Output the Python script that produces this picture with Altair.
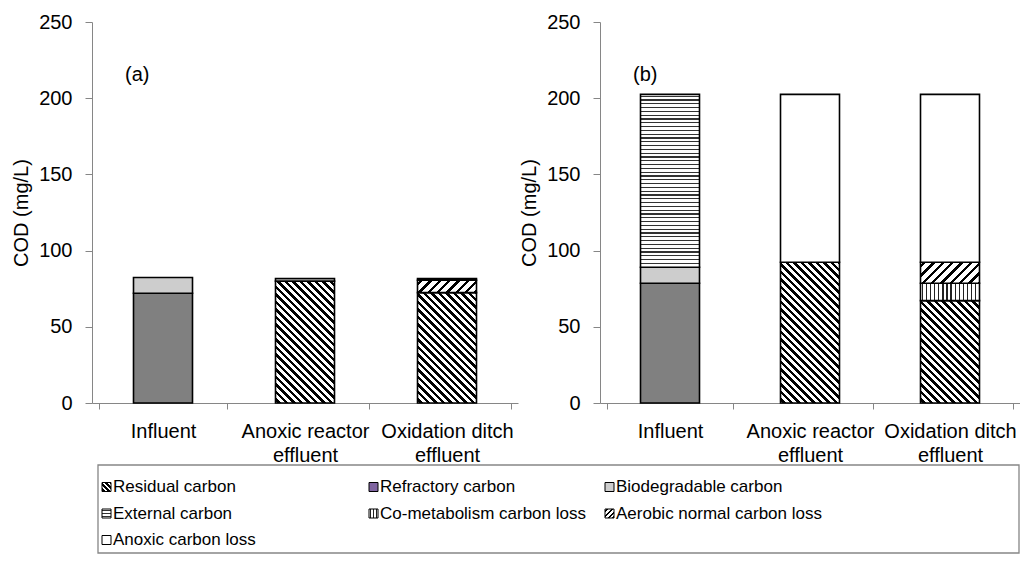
import math
import altair as alt
import pandas as pd

# ---------------- data ----------------
categories = ["Influent", "Anoxic reactor|effluent", "Oxidation ditch|effluent"]
components = ["Residual carbon", "Refractory carbon", "Biodegradable carbon",
              "External carbon", "Co-metabolism carbon loss",
              "Aerobic normal carbon loss", "Anoxic carbon loss"]

# panel (a)  (mg/L, per category)
a_residual = [0.0, 80.0, 72.4]
a_refractory = [72.0, 0.0, 0.0]
a_biodegradable = [10.3, 0.0, 0.0]
a_external = [0.0, 0.0, 0.0]
a_cometabolism = [0.0, 0.0, 0.0]
a_aerobic = [0.0, 0.0, 8.1]
a_anoxic = [0.0, 1.6, 1.1]

# panel (b)
b_residual = [0.0, 92.4, 67.2]
b_refractory = [78.6, 0.0, 0.0]
b_biodegradable = [10.5, 0.0, 0.0]
b_external = [113.4, 0.0, 0.0]
b_cometabolism = [0.0, 0.0, 11.4]
b_aerobic = [0.0, 0.0, 13.8]
b_anoxic = [0.0, 110.1, 110.1]

panel_a = [a_residual, a_refractory, a_biodegradable, a_external,
           a_cometabolism, a_aerobic, a_anoxic]
panel_b = [b_residual, b_refractory, b_biodegradable, b_external,
           b_cometabolism, b_aerobic, b_anoxic]

# ---------------- style ----------------
FONT = "Liberation Sans"
FS = 20
LFS = 17
H = 381
WA = 426
WB = 420
BARW = 59
YMAX = 250

pattern_of = {
    "Residual carbon": "back",
    "Refractory carbon": "gray",
    "Biodegradable carbon": "dots",
    "External carbon": "hlines",
    "Co-metabolism carbon loss": "vlines",
    "Aerobic normal carbon loss": "fwd",
    "Anoxic carbon loss": "white",
}


def hard_stops(L, period, lw, fg, bg):
    stops = [{"offset": 0, "color": bg}]
    pos = period * 0.3
    while pos < L:
        a = max(pos, 0) / L
        b = min(pos + lw, L) / L
        if b > a:
            a, b = round(a, 4), round(b, 4)
            stops += [{"offset": a, "color": bg}, {"offset": a, "color": fg},
                      {"offset": b, "color": fg}, {"offset": b, "color": bg}]
        pos += period
    stops.append({"offset": 1, "color": bg})
    return stops


def fill_for(kind, w, h, legend=False):
    if kind == "gray":
        return "#7f64a0" if legend else "#808080"
    if kind == "white":
        return "#ffffff"
    if kind == "dots":
        return "#cdcdcd"
    if kind == "hlines":
        L = h
        g = dict(x1=0, y1=0, x2=0, y2=1)
        stops = hard_stops(L, 3.8 if not legend else 3.0, 1.3, "#333333", "#ffffff")
    elif kind == "vlines":
        L = w
        g = dict(x1=0, y1=0, x2=1, y2=0)
        stops = hard_stops(L, 4.1 if not legend else 3.0, 1.3, "#222222", "#ffffff")
    elif kind in ("back", "fwd"):
        L = (w + h) / math.sqrt(2)
        s = (w + h) / (w * w + h * h)
        if kind == "back":
            g = dict(x1=0, y1=1, x2=round(s * w, 5), y2=round(1 - s * h, 5))
            stops = hard_stops(L, 5.3 if not legend else 3.4, 2.4 if not legend else 1.8,
                               "#000000", "#ffffff")
        else:
            g = dict(x1=0, y1=0, x2=round(s * w, 5), y2=round(s * h, 5))
            stops = hard_stops(L, 6.6 if not legend else 3.4, 2.3 if not legend else 1.6,
                               "#000000", "#ffffff")
    g["gradient"] = "linear"
    g["stops"] = stops
    return g


def long_table(panel):
    rows = []
    for ci, cat in enumerate(categories):
        base = 0.0
        for k, comp in enumerate(components):
            v = panel[k][ci]
            if v > 0:
                rows.append({"cat": cat, "comp": comp, "y0": base, "y1": base + v,
                             "sid": f"{ci}-{k}"})
                base += v
    return pd.DataFrame(rows)


def make_panel(panel, tag, width):
    df = long_table(panel)
    xenc = alt.X("cat:N", sort=categories, scale=alt.Scale(domain=categories),
                 axis=alt.Axis(title=None, labelAngle=0, labelExpr="split(datum.label, '|')",
                               tickBand="extent", tickSize=6, labelPadding=12,
                               labelLineHeight=24, labelFontSize=FS, labelFont=FONT,
                               labelColor="#000000", domainColor="#868686",
                               tickColor="#868686", labelBaseline="top", grid=False))
    yenc = alt.Y("y1:Q", scale=alt.Scale(domain=[0, YMAX], nice=False),
                 axis=alt.Axis(title="COD (mg/L)", values=[0, 50, 100, 150, 200, 250],
                               tickSize=7, labelPadding=13, titlePadding=7,
                               labelFontSize=FS, titleFontSize=FS, labelFont=FONT,
                               titleFont=FONT, titleFontWeight="normal",
                               labelColor="#000000", titleColor="#000000",
                               domainColor="#868686", tickColor="#868686", grid=False))
    layers = []
    for _, r in df.iterrows():
        hpx = (r["y1"] - r["y0"]) * H / YMAX
        fill = fill_for(pattern_of[r["comp"]], BARW, hpx)
        layers.append(
            alt.Chart(df).transform_filter(alt.datum.sid == r["sid"])
            .mark_bar(width=BARW, fill=fill, stroke="#000000", strokeWidth=1.6)
            .encode(x=xenc, y=yenc, y2="y0:Q")
        )
    label = alt.Chart(pd.DataFrame({"t": [tag]})).mark_text(
        font=FONT, fontSize=FS, align="left", baseline="middle", color="#000000"
    ).encode(text="t:N", x=alt.value(33), y=alt.value(53))
    layers.append(label)
    return alt.layer(*layers).properties(width=width, height=H)


pa = make_panel(panel_a, "(a)", WA)
pb = make_panel(panel_b, "(b)", WB)
top = alt.hconcat(pa, pb, spacing=1)

# ---------------- legend ----------------
LEG_X0 = 6
LEG_W = 927
LEG_H = 88
col_x = [LEG_X0 + 4, LEG_X0 + 271, LEG_X0 + 507]
leg_rows = []
for i, comp in enumerate(components):
    col, row = i % 3, i // 3
    lx = col_x[col]
    ly = 22 + row * 26.5
    leg_rows.append({"comp": comp, "lx": lx, "lx2": lx + 9, "ly": ly - 4.5, "ly2": ly + 4.5,
                     "tx": lx + 11, "ty": ly})
leg_df = pd.DataFrame(leg_rows)

box = alt.Chart(pd.DataFrame({"k": [0]})).mark_rect(
    fill="#ffffff", stroke="#868686", strokeWidth=1.3
).encode(x=alt.value(LEG_X0), x2=alt.value(LEG_W), y=alt.value(0), y2=alt.value(LEG_H))

leg_layers = [box]
for comp in components:
    leg_layers.append(
        alt.Chart(leg_df).transform_filter(alt.datum.comp == comp)
        .mark_rect(fill=fill_for(pattern_of[comp], 9, 9, legend=True),
                   stroke="#000000", strokeWidth=1)
        .encode(x=alt.X("lx:Q", scale=None), x2="lx2:Q",
                y=alt.Y("ly:Q", scale=None), y2="ly2:Q")
    )
leg_layers.append(
    alt.Chart(leg_df).mark_text(font=FONT, fontSize=LFS, align="left",
                                baseline="middle", color="#000000")
    .encode(x=alt.X("tx:Q", scale=None), y=alt.Y("ty:Q", scale=None), text="comp:N")
)
legend = alt.layer(*leg_layers).properties(width=LEG_W, height=LEG_H)

chart = alt.vconcat(top, legend, spacing=-7).properties(
    padding={"left": 11, "top": 12, "right": 0, "bottom": 0},
    background="#ffffff",
).configure_view(strokeWidth=0, stroke="transparent")

chart.save("out.html", embed_options={"renderer": "svg", "actions": False})
